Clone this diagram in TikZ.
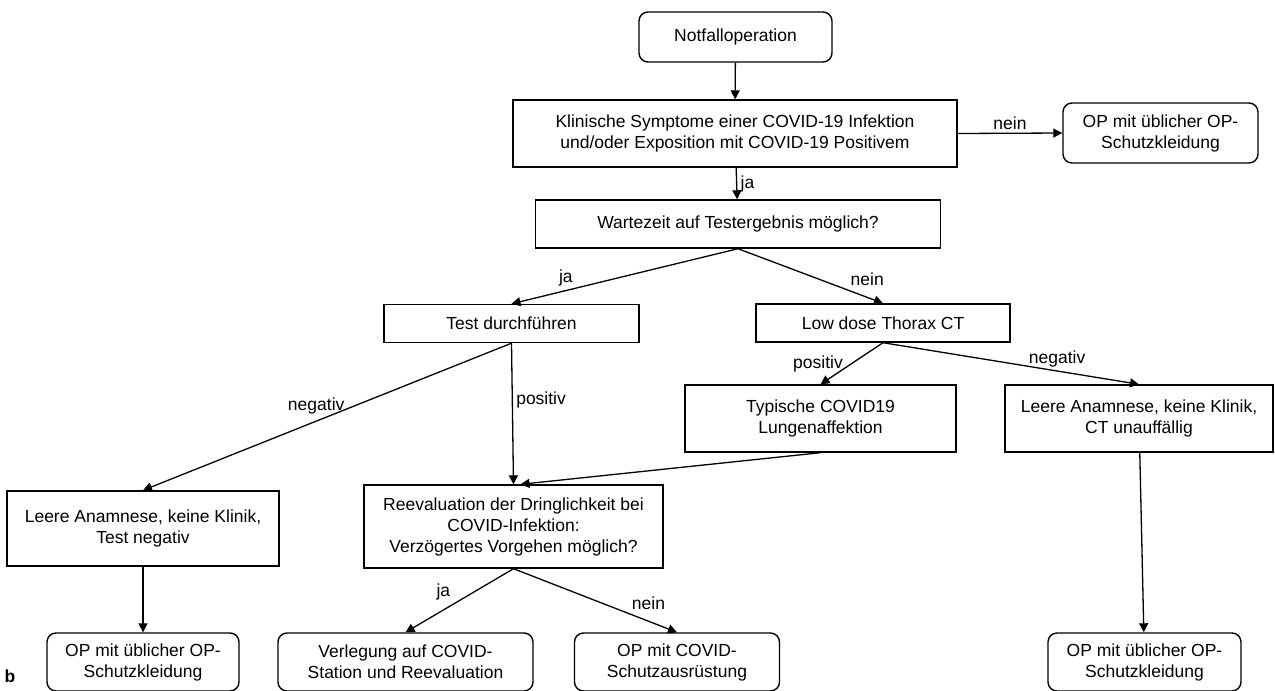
\documentclass[tikz,border=0pt]{standalone}
\usepackage{fontspec}
\setmainfont{Liberation Sans}
\usetikzlibrary{arrows.meta}

\begin{document}
\begin{tikzpicture}[x=1pt,y=-1pt,font=\fontsize{17.5}{21}\selectfont,
    box/.style={draw,line width=1.4pt,align=center,inner sep=0pt},
    endbox/.style={box,rounded corners=9pt},
    arr/.style={-{Triangle[length=9pt,width=9pt]},line width=1.3pt}]
        \useasboundingbox (0,0) rectangle (1275,691);

        % Start and first question
        \node[endbox,minimum width=193pt,minimum height=50pt] (start) at (735.5,37) {Notfalloperation};
        \node[box,minimum width=444pt,minimum height=67pt] (symptome) at (735,133.5)
             {Klinische Symptome einer COVID-19 Infektion\\und/oder Exposition mit COVID-19 Positivem};
        \node[endbox,minimum width=195pt,minimum height=60pt] (opA) at (1160.5,133)
             {OP mit üblicher OP-\\Schutzkleidung};
        \node[box,minimum width=405pt,minimum height=48pt] (warten) at (738,224)
             {Wartezeit auf Testergebnis möglich?};

        % Test or CT
        \node[box,minimum width=255pt,minimum height=38pt] (test) at (511.5,323.5) {Test durchführen};
        \node[box,minimum width=254pt,minimum height=38pt] (ct) at (883,323) {Low dose Thorax CT};
        \node[box,minimum width=271pt,minimum height=67pt] (typisch) at (820.5,418.5)
             {Typische COVID19\\Lungenaffektion};
        \node[box,minimum width=268pt,minimum height=67pt] (leereCT) at (1139,418.5)
             {Leere Anamnese, keine Klinik,\\CT unauffällig};
        \node[box,minimum width=272pt,minimum height=75pt] (leereTest) at (143,528.5)
             {Leere Anamnese, keine Klinik,\\Test negativ};
        \node[box,minimum width=299pt,minimum height=83pt] (reeval) at (513.5,526.5)
             {Reevaluation der Dringlichkeit bei\\COVID-Infektion:\\Verzögertes Vorgehen möglich?};

        % Bottom row
        \node[endbox,minimum width=192pt,minimum height=58pt] (opB) at (143,662)
             {OP mit üblicher OP-\\Schutzkleidung};
        \node[endbox,minimum width=255pt,minimum height=58pt] (verlegung) at (405.5,662)
             {Verlegung auf COVID-\\Station und Reevaluation};
        \node[endbox,minimum width=205pt,minimum height=58pt] (opCovid) at (677,662)
             {OP mit COVID-\\Schutzausrüstung};
        \node[endbox,minimum width=193pt,minimum height=58pt] (opC) at (1144.5,662)
             {OP mit üblicher OP-\\Schutzkleidung};
        \node[font=\fontsize{17.5}{21}\selectfont\bfseries] (tag) at (10,676) {b};

        % Connectors
        \draw[arr] (start) -- (symptome);
        \draw[arr] (symptome.east) -- (opA.west) node[above,midway] {nein};
        \draw[arr] (symptome) -- (warten) node[right,midway] {ja};
        \draw[arr] (warten.south) -- (test.north) node[above,pos=0.76] {ja};
        \draw[arr] (warten.south) -- (ct.north) node[above right,pos=0.75] {nein};
        \draw[arr] (test.south) -- (leereTest.north) node[above=3pt,pos=0.53] {negativ};
        \draw[arr] (test.south) -- (reeval.north) node[right,pos=0.4] {positiv};
        \draw[arr] (ct.south) -- (typisch.north) node[left=5pt,midway] {positiv};
        \draw[arr] (ct.south) -- (leereCT.north) node[above,pos=0.68] {negativ};
        \draw[arr] (typisch.south) -- ([xshift=7pt]reeval.north);
        \draw[arr] (leereTest) -- (opB);
        \draw[arr] (leereCT) -- (opC);
        \draw[arr] (reeval.south) -- (verlegung.north) node[above left,pos=0.55] {ja};
        \draw[arr] (reeval.south) -- (opCovid.north) node[above right,pos=0.7] {nein};
\end{tikzpicture}
\end{document}
